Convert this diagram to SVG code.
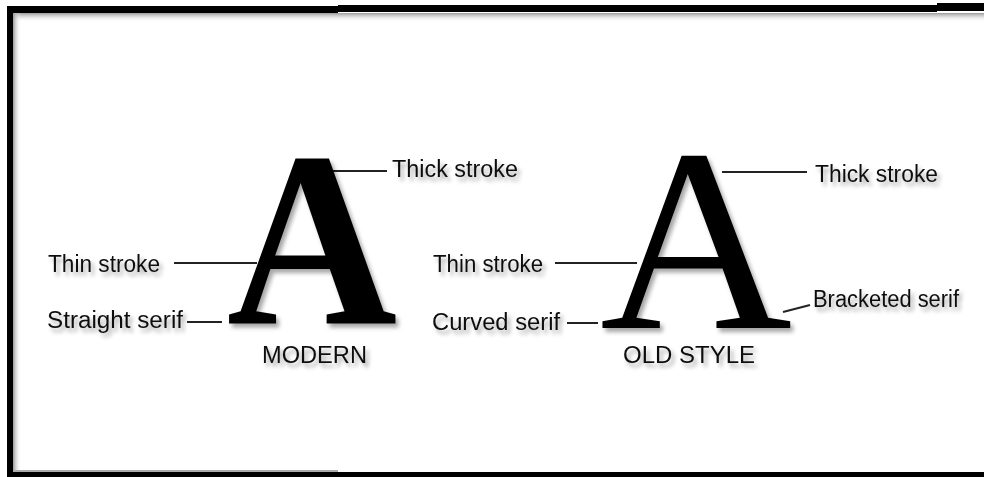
<svg xmlns="http://www.w3.org/2000/svg" width="984" height="477" viewBox="0 0 984 477">
  <defs>
    <filter id="sh" x="-10%" y="-20%" width="130%" height="160%">
      <feDropShadow dx="3" dy="4" stdDeviation="2" flood-color="#000" flood-opacity="0.35"/>
    </filter>
    <linearGradient id="gTop" x1="0" y1="0" x2="0" y2="1">
      <stop offset="0" stop-color="#999"/>
      <stop offset="1" stop-color="#fff" stop-opacity="0"/>
    </linearGradient>
    <linearGradient id="gLeft" x1="0" y1="0" x2="1" y2="0">
      <stop offset="0" stop-color="#999"/>
      <stop offset="1" stop-color="#fff" stop-opacity="0"/>
    </linearGradient>
  </defs>
  <style>
    .lbl { font-family: "Liberation Sans", Arial, sans-serif; font-size: 23px; fill: #111; }
    .cap { font-family: "Liberation Sans", Arial, sans-serif; font-size: 23px; fill: #111; }
    .lead { stroke: #222; stroke-width: 2; fill: none; }
    .frame { fill: #000; }
  </style>
  <rect width="984" height="477" fill="#fff"/>
  <g id="frame">
    <rect x="13" y="13" width="971" height="9" fill="url(#gTop)"/>
    <rect x="13" y="13" width="8" height="459" fill="url(#gLeft)"/>
    <rect class="frame" x="7" y="6" width="331" height="7"/>
    <rect class="frame" x="338" y="5" width="599" height="7"/>
    <rect class="frame" x="937" y="3" width="47" height="8"/>
    <rect class="frame" x="7" y="6" width="6" height="471"/>
    <rect class="frame" x="7" y="472" width="977" height="5"/>
    <rect x="13" y="470" width="325" height="2" fill="#aaa"/>
  </g>
  <g id="connectors">
    <line class="lead" x1="332" y1="171" x2="387" y2="171"/>
    <line class="lead" x1="174" y1="263" x2="257" y2="263" stroke="#555"/>
    <line class="lead" x1="187" y1="322" x2="222" y2="322"/>
    <line class="lead" x1="722" y1="172" x2="807" y2="172"/>
    <line class="lead" x1="555" y1="263" x2="637" y2="263" stroke="#555"/>
    <line class="lead" x1="567" y1="323" x2="598" y2="323"/>
    <line class="lead" x1="783" y1="312" x2="810" y2="305"/>
  </g>
  <g id="modern-letter" filter="url(#sh)">
    <text transform="translate(312 324) scale(0.94 1)" text-anchor="middle" font-family="'Liberation Serif', 'Times New Roman', serif" font-weight="bold" font-size="251" fill="#000">A</text>
  </g>
  <g id="oldstyle-letter" filter="url(#sh)">
    <text transform="translate(696 328) scale(1.02 1)" text-anchor="middle" font-family="'Liberation Serif', 'Times New Roman', serif" font-size="261" fill="#000">A</text>
  </g>
  <g id="label-thick-modern" filter="url(#sh)"><text class="lbl" x="392" y="177" textLength="126" lengthAdjust="spacingAndGlyphs">Thick stroke</text></g>
  <g id="label-thin-modern" filter="url(#sh)"><text class="lbl" x="48" y="272" textLength="112" lengthAdjust="spacingAndGlyphs">Thin stroke</text></g>
  <g id="label-straight-serif" filter="url(#sh)"><text class="lbl" x="47" y="328" textLength="136" lengthAdjust="spacingAndGlyphs">Straight serif</text></g>
  <g id="caption-modern" filter="url(#sh)"><text class="cap" x="262" y="363" textLength="105" lengthAdjust="spacingAndGlyphs">MODERN</text></g>
  <g id="label-thick-old" filter="url(#sh)"><text class="lbl" x="815" y="182" textLength="123" lengthAdjust="spacingAndGlyphs">Thick stroke</text></g>
  <g id="label-thin-old" filter="url(#sh)"><text class="lbl" x="433" y="272" textLength="110" lengthAdjust="spacingAndGlyphs">Thin stroke</text></g>
  <g id="label-curved-serif" filter="url(#sh)"><text class="lbl" x="432" y="330" textLength="128" lengthAdjust="spacingAndGlyphs">Curved serif</text></g>
  <g id="label-bracketed-serif" filter="url(#sh)"><text class="lbl" x="813" y="307" textLength="146" lengthAdjust="spacingAndGlyphs">Bracketed serif</text></g>
  <g id="caption-oldstyle" filter="url(#sh)"><text class="cap" x="623" y="363" textLength="132" lengthAdjust="spacingAndGlyphs">OLD STYLE</text></g>
</svg>
